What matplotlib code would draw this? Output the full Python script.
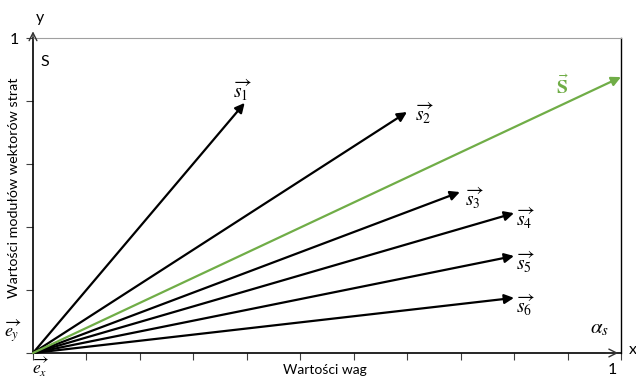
import matplotlib.pyplot as plt
import numpy as np

# vector end points (x = weight, y = loss modulus)
names = ["1", "2", "3", "4", "5", "6"]
x_end = [0.36, 0.636, 0.726, 0.818, 0.818, 0.818]
y_end = [0.794, 0.765, 0.511, 0.444, 0.308, 0.175]
label_dx = [-0.004, 0.03, 0.025, 0.02, 0.02, 0.02]
label_dy = [0.04, -0.005, -0.02, -0.015, -0.02, -0.025]

s_end = (1.0, 0.876)

plt.rcParams['font.family'] = ['Lato', 'DejaVu Sans']
plt.rcParams['mathtext.fontset'] = 'stix'

fig = plt.figure(figsize=(6.36, 3.79), dpi=100)
ax = fig.add_axes([0.0519, 0.0686, 0.9245, 0.8311])
ax.set_xlim(0, 1)
ax.set_ylim(0, 1)

# frame
ax.spines['top'].set_color('#a0a0a0')
ax.spines['right'].set_color('black')
ax.spines['left'].set_linewidth(1.2)
ax.spines['bottom'].set_linewidth(1.2)
ax.spines['right'].set_linewidth(1.0)

ax.set_xticks(np.linspace(0, 1, 12))
ax.set_xticklabels([])
ax.set_yticks(np.linspace(0, 1, 6))
ax.set_yticklabels([])
ax.tick_params(length=5, width=0.8, color='#404040')

# axis arrows
ax.annotate("", xy=(0, 1.03), xytext=(0, 0.98), xycoords='axes fraction',
            arrowprops=dict(arrowstyle='->', lw=1.0, color='#333333', mutation_scale=14),
            annotation_clip=False)
ax.annotate("", xy=(1.0, 0), xytext=(0.97, 0), xycoords='axes fraction',
            arrowprops=dict(arrowstyle='->', lw=1.0, color='#333333', mutation_scale=14),
            annotation_clip=False)

# vectors
for n, xe, ye, dx, dy in zip(names, x_end, y_end, label_dx, label_dy):
    ax.annotate("", xy=(xe, ye), xytext=(0, 0),
                arrowprops=dict(arrowstyle='-|>', lw=1.6, color='black',
                                mutation_scale=14, shrinkA=0, shrinkB=0))
    ax.text(xe + dx, ye + dy, r"$\overrightarrow{s_%s}$" % n, fontsize=14,
            ha='center', va='center')

ax.annotate("", xy=s_end, xytext=(0, 0),
            arrowprops=dict(arrowstyle='-|>', lw=1.6, color='#70ad47',
                            mutation_scale=14, shrinkA=0, shrinkB=0),
            annotation_clip=False)
ax.text(0.9, 0.85, r"$\vec{\mathbf{S}}$", fontsize=14, color='#70ad47',
        ha='center', va='center')

# texts
ax.text(-0.031, 0.995, "1", fontsize=11.5, ha='center', va='center', transform=ax.transAxes)
ax.text(0.986, -0.055, "1", fontsize=11.5, ha='center', va='center', transform=ax.transAxes)
ax.text(0.012, 1.065, "y", fontsize=11.5, ha='center', va='center', transform=ax.transAxes)
ax.text(1.02, 0.01, "x", fontsize=11.5, ha='center', va='center', transform=ax.transAxes,
        clip_on=False)
ax.text(0.02, 0.925, "S", fontsize=11.5, ha='center', va='center')
ax.text(0.963, 0.08, r"$\alpha_s$", fontsize=15, ha='center', va='center')
ax.text(-0.034, 0.072, r"$\overrightarrow{e_y}$", fontsize=13, ha='center', va='center',
        transform=ax.transAxes)
ax.text(0.013, -0.047, r"$\overrightarrow{e_x}$", fontsize=12.5, ha='center', va='center',
        transform=ax.transAxes)

ax.set_xlabel("Wartości wag", fontsize=10)
ax.set_ylabel("Wartości modułów wektorów strat", fontsize=10.3)
ax.xaxis.label.set_va('center')
ax.yaxis.label.set_va('center')
ax.yaxis.set_label_coords(-0.032, 0.525)
ax.xaxis.set_label_coords(0.497, -0.055)

fig.savefig("out.png", dpi=100)
